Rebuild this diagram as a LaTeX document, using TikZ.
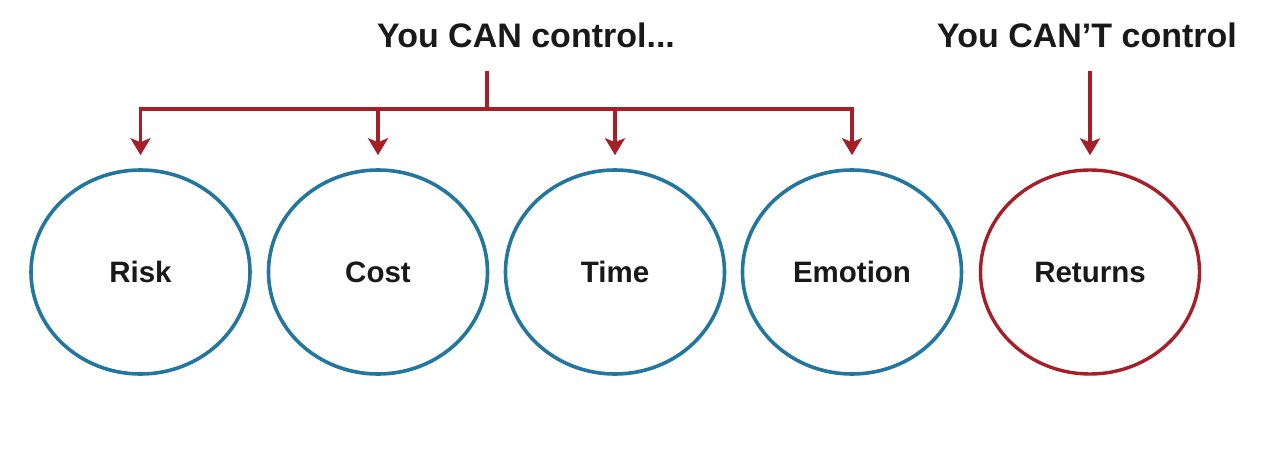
\documentclass[tikz,border=0pt]{standalone}
\usepackage{fontspec}
\setmainfont{Liberation Sans}
\usetikzlibrary{arrows.meta,shapes.geometric}
\definecolor{cblue}{RGB}{35,118,158}
\definecolor{cred}{RGB}{165,30,40}
\tikzset{
  oval/.style={ellipse, draw=cblue, line width=3.6pt, minimum width=219pt, minimum height=204pt, inner sep=0pt, text height=21pt, text depth=0pt, font=\fontsize{29.5}{34}\selectfont\bfseries, text=black!90},
  redoval/.style={oval, draw=cred, line width=3.4pt},
  title/.style={anchor=base, inner sep=0pt, font=\fontsize{34}{40}\selectfont\bfseries, text=black!90},
  conn/.style={draw=cred, line width=3.2pt, line join=miter},
  arr/.style={conn, -{Stealth[length=17pt,width=20pt,inset=4pt]}}
}
\begin{document}
\begin{tikzpicture}[x=1pt,y=-1pt]
\useasboundingbox[fill=white] (0,0) rectangle (1278,450);
\node[title] (can) at (526,47) {You CAN control...};
\node[title] (cant) at (1087,47) {You CAN’T control};
\node[oval] (risk) at (140.5,272) {Risk};
\node[oval] (cost) at (378,272) {Cost};
\node[oval] (time) at (615,272) {Time};
\node[oval] (emo) at (852,272) {Emotion};
\node[redoval] (ret) at (1090,272) {Returns};
\coordinate (stem) at (487,109);
\draw[conn, shorten <=23pt] (can.south -| stem) -- (stem);
\foreach \t in {risk,cost,time,emo}
  \draw[arr, shorten >=13pt] (stem) -| (\t.north);
\draw[arr, shorten <=23pt, shorten >=13pt] (cant.south -| ret.north) -- (ret.north);
\end{tikzpicture}
\end{document}
